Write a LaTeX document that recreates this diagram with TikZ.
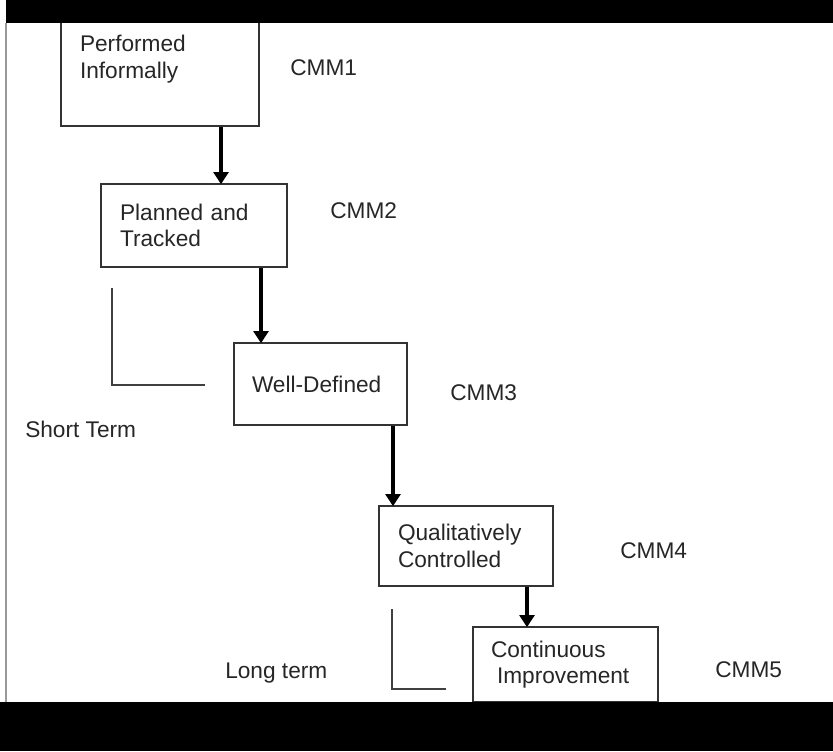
\documentclass[tikz,border=0pt]{standalone}
\usepackage{fontspec}
\setmainfont{Liberation Sans}
\usetikzlibrary{arrows.meta,calc}

\begin{document}
\begin{tikzpicture}[
    x=0.75pt, y=-0.75pt,
    every node/.style={
        font=\fontsize{17}{20}\selectfont,
        text=black!85
    },
    level/.style={
        draw=black!80,
        line width=1.7pt,
        inner sep=0pt,
        align=left
    },
    tag/.style={
        inner sep=0pt,
        anchor=base west
    },
    flow/.style={
        draw=black,
        line width=2.8pt,
        -{Triangle[width=11pt,length=9pt]},
        shorten >=-1pt
    },
    bracket/.style={
        draw=black!75,
        line width=1.3pt
    },
    band/.style={
        fill=black,
        draw=none
    }
]

\useasboundingbox (0,0) rectangle (833,751);

% ============================================================
% Maturity levels
% ============================================================

\node[level, minimum width=148.5pt, minimum height=100.5pt, text width=120pt]
(b1) at (160,59)
{Performed\\
Informally};

\node[level, minimum width=139.5pt, minimum height=62.25pt, text width=111pt]
(b2) at (194,225.5)
{Planned and\\
Tracked};

\node[level, minimum width=129.75pt, minimum height=61.5pt, text width=102.75pt]
(b3) at (320.5,384)
{Well-Defined};

\node[level, minimum width=130.5pt, minimum height=60pt, text width=102pt]
(b4) at (466,546)
{Qualitatively\\
Controlled};

\node[level, minimum width=138.75pt, minimum height=56.25pt, text width=111.75pt]
(b5) at (565.5,664.5)
{Continuous\\
\hspace*{4.5pt}Improvement};

% ============================================================
% Level tags
% ============================================================

\node[tag] (cmm1) at (290,75) {CMM1};
\node[tag] (cmm2) at (330,218) {CMM2};
\node[tag] (cmm3) at (450,400) {CMM3};
\node[tag] (cmm4) at (620,558) {CMM4};
\node[tag] (cmm5) at (715,677) {CMM5};

\node[tag] (short) at (25,437) {Short Term};
\node[tag] (long) at (225,678) {Long term};

% ============================================================
% Steps between levels
% ============================================================

\coordinate (a1) at ($(b1.south)+(61,0)$);
\coordinate (a2) at ($(b2.south)+(67,0)$);
\coordinate (a3) at ($(b3.south)+(72.5,0)$);
\coordinate (a4) at ($(b4.south)+(61,0)$);

\draw[flow] (a1) -- (a1 |- b2.north);
\draw[flow] (a2) -- (a2 |- b3.north);
\draw[flow] (a3) -- (a3 |- b4.north);
\draw[flow] (a4) -- (a4 |- b5.north);

% Term brackets
\draw[bracket]
($(b2.south west)+(12,20)$) |- ($(b3.west)+(-28,1)$);

\draw[bracket]
($(b4.south west)+(14,22)$) |- ($(b5.south west)+(-26,-14)$);

% ============================================================
% Frame bands
% ============================================================

\fill[band] (6,0) rectangle (833,23);
\fill[band] (0,702) rectangle (833,751);
\draw[black!40, line width=0.8pt] (6,23) -- (6,702);

\end{tikzpicture}
\end{document}
